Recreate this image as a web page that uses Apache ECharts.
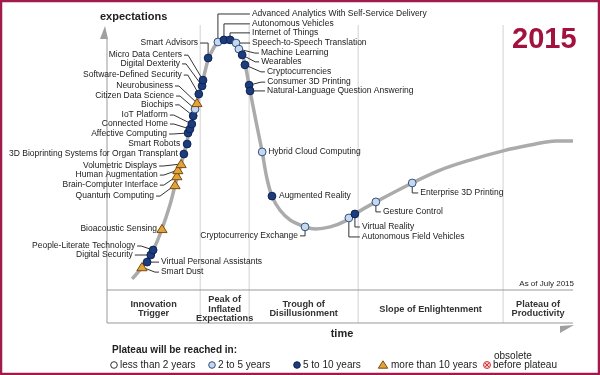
<!DOCTYPE html>
<html>
<head>
<meta charset="utf-8">
<script src="https://cdn.jsdelivr.net/npm/echarts@6/dist/echarts.min.js"></script>
<style>
html, body { margin: 0; padding: 0; background: #fff; }
#chart { width: 600px; height: 375px; }
</style>
</head>
<body>
<div id="chart"></div>
<script>
// technologies on the curve, x = time, y = expectations (0-100)
var techNames = [
    'Smart Dust', 'Virtual Personal Assistants', 'Digital Security', 'People-Literate Technology',
    'Bioacoustic Sensing', 'Quantum Computing', 'Brain-Computer Interface', 'Human Augmentation',
    'Volumetric Displays', '3D Bioprinting Systems for Organ Transplant', 'Smart Robots',
    'Affective Computing', 'Connected Home', 'IoT Platform', 'Biochips', 'Citizen Data Science',
    'Neurobusiness', 'Software-Defined Security', 'Digital Dexterity', 'Micro Data Centers',
    'Smart Advisors', 'Advanced Analytics With Self-Service Delivery', 'Autonomous Vehicles',
    'Internet of Things', 'Speech-to-Speech Translation', 'Machine Learning', 'Wearables',
    'Cryptocurrencies', 'Consumer 3D Printing', 'Natural-Language Question Answering',
    'Hybrid Cloud Computing', 'Augmented Reality', 'Cryptocurrency Exchange',
    'Autonomous Field Vehicles', 'Virtual Reality', 'Gesture Control', 'Enterprise 3D Printing'
];
var techX = [7.5, 8.6, 9.4, 9.9, 11.8, 14.6, 15.0, 15.2, 15.9, 16.5, 17.2, 17.4, 17.8, 18.2, 18.5,
    18.9, 19.3, 19.7, 20.4, 20.6, 21.7, 23.8, 25.1, 26.4, 27.7, 28.3, 29.0, 29.6, 30.5, 30.7,
    33.3, 35.4, 42.5, 51.9, 53.2, 57.7, 65.5];
var techY = [8.7, 10.6, 13.3, 15.2, 23.2, 39.9, 43.3, 45.6, 47.9, 51.7, 55.5, 59.7, 61.2, 63.1, 66.2,
    68.8, 71.1, 74.5, 77.6, 79.8, 88.2, 94.3, 95.1, 95.1, 93.9, 91.6, 89.4, 85.6, 77.9, 75.7,
    52.5, 35.7, 24.0, 27.4, 28.9, 33.5, 40.7];
// years to plateau: 0 = <2, 1 = 2-5, 2 = 5-10, 3 = >10
var techTerm = [3, 2, 2, 2, 3, 3, 3, 3, 3, 2, 2, 2, 2, 2, 2, 1, 3, 2, 2, 2,
    2, 1, 2, 2, 1, 1, 2, 2, 2, 2, 1, 2, 1, 1, 2, 1, 1];

// hype curve
var curveX = [5.4, 7.5, 9.9, 11.8, 13.5, 14.8, 16.5, 17.8, 19.3, 20.6, 21.7, 23.0, 24.2, 25.8, 27.0,
    28.1, 29.0, 29.8, 30.7, 32.0, 33.3, 34.3, 35.4, 37.1, 39.3, 42.5, 44.8, 47.9, 51.1, 53.2,
    57.7, 65.5, 71.5, 77.9, 85.0, 90.8, 96.4, 100];
var curveY = [4.2, 8.7, 15.2, 23.2, 32.3, 41.1, 51.7, 61.2, 71.1, 79.8, 87.5, 92.4, 94.7, 95.6, 95.4,
    93.5, 89.7, 84.4, 75.7, 63.9, 52.5, 42.6, 35.7, 30.4, 26.6, 24.0, 23.2, 24.0, 26.2, 28.9,
    33.5, 40.7, 45.6, 49.4, 52.9, 55.1, 56.7, 56.7];

var phaseNames = ['Innovation\nTrigger', 'Peak of\nInflated\nExpectations', 'Trough of\nDisillusionment',
    'Slope of Enlightenment', 'Plateau of\nProductivity'];
var phaseBounds = [0, 20, 30.5, 53.9, 85, 100];

var legendLabels = ['less than 2 years', '2 to 5 years', '5 to 10 years', 'more than 10 years', 'before plateau'];

// label placement: [dx, dy, align, leader]
var labelPos = [
    [19, 5, 'left', 'd'], [14, 0, 'left', 'd'], [-18, 0, 'right', 'd'], [-18, -4, 'right', 'd'],
    [-5, 0, 'right', 'none'], [-21, 11, 'right', 'd'], [-19, 9, 'right', 'd'], [-20, 5, 'right', 'd'],
    [-24, 2, 'right', 'd'], [-6, 0, 'right', 'none'], [-7, 0, 'right', 'none'],
    [-21, 1, 'right', 'd'], [-22, -5, 'right', 'd'], [-24, -9, 'right', 'd'], [-20, -11, 'right', 'd'],
    [-21, -13, 'right', 'd'], [-24, -17, 'right', 'd'], [-17, -19, 'right', 'd'], [-22, -22, 'right', 'd'],
    [-21, -25, 'right', 'd'],
    [-10, -15, 'right', 'v'], [34, -28, 'left', 'v'], [28, -16, 'left', 'v'], [22, -7, 'left', 'v'],
    [16, 0, 'left', 'd'], [22, 4, 'left', 'd'], [19, 7, 'left', 'd'], [22, 7, 'left', 'd'],
    [18, -3, 'left', 'd'], [17, 0, 'left', 'd'],
    [6, 0, 'left', 'none'], [7, 0, 'left', 'none'], [-7, 9, 'right', 'v'],
    [13, 19, 'left', 'v'], [7, 13, 'left', 'v'], [7, 10, 'left', 'v'], [8, 10, 'left', 'v']
];

var FONT = '"Liberation Sans", Arial, sans-serif';
var termFill = ['#ffffff', '#c6d8ea', '#1c3c7c', '#e2a23c'];
var termStroke = ['#333333', '#2e4f88', '#0c2254', '#7a4c0c'];

function markerShape(term, x, y, big) {
    var r = big ? 3.9 : 3.3;
    if (term === 3) {
        var h = big ? 4.6 : 4.2;
        return {
            type: 'polygon',
            shape: { points: [[x, y - h], [x + h + 0.5, y + h - 1], [x - h - 0.5, y + h - 1]] },
            style: { fill: termFill[3], stroke: termStroke[3], lineWidth: 1 }
        };
    }
    return {
        type: 'circle',
        shape: { cx: x, cy: y, r: r },
        style: { fill: termFill[term], stroke: termStroke[term], lineWidth: 1 }
    };
}

function renderItem(params, api) {
    var i = params.dataIndex;
    var p = api.coord([api.value(0), api.value(1)]);
    var term = api.value(2);
    var lp = labelPos[i];
    var lx = p[0] + lp[0], ly = p[1] + lp[1];
    var left = lp[2] === 'left';
    var kids = [];
    var lineStyle = { stroke: '#333', lineWidth: 1, fill: null };
    if (lp[3] === 'v') {
        kids.push({ type: 'polyline',
            shape: { points: [[p[0], p[1]], [p[0], ly], [left ? lx - 2 : lx + 2, ly]] },
            style: lineStyle });
    } else if (lp[3] === 'd') {
        var sx = left ? lx - 2 : lx + 2;
        var kx = left ? sx - 4 : sx + 4;
        kids.push({ type: 'polyline',
            shape: { points: [[sx, ly], [kx, ly], [p[0], p[1]]] },
            style: lineStyle });
    }
    kids.push(markerShape(term, p[0], p[1], true));
    kids.push({ type: 'text', style: {
        text: techNames[i], x: lx, y: ly, align: left ? 'left' : 'right', verticalAlign: 'middle',
        font: '8.5px ' + FONT, fill: '#1a1a1a'
    } });
    return { type: 'group', children: kids };
}

var chart = echarts.init(document.getElementById('chart'));

chart.setOption({
    animation: false,
    grid: { left: 107, top: 27, width: 466, height: 263 },
    xAxis: { type: 'value', min: 0, max: 100, show: false },
    yAxis: { type: 'value', min: 0, max: 100, show: false },
    series: [
        {
            type: 'line',
            data: curveX.map(function (x, i) { return [x, curveY[i]]; }),
            showSymbol: false,
            smooth: 0.35,
            lineStyle: { color: '#ababab', width: 3.5 },
            z: 1
        },
        {
            type: 'custom',
            renderItem: renderItem,
            data: techNames.map(function (n, i) { return [techX[i], techY[i], techTerm[i]]; }),
            z: 3
        }
    ]
});

// frame, axes, phases and legend
var g = [];
var axisColor = '#999';
g.push({ type: 'rect', shape: { x: 1, y: 1, width: 598, height: 373 },
    style: { fill: null, stroke: '#a01a4c', lineWidth: 2.5 }, z: 0 });

var bx = phaseBounds.map(function (b) { return chart.convertToPixel({ gridIndex: 0 }, [b, 0])[0]; });
for (var k = 1; k < bx.length - 1; k++) {
    g.push({ type: 'line', shape: { x1: bx[k], y1: 25, x2: bx[k], y2: 323 },
        style: { stroke: '#d2d2d2', lineWidth: 1 }, z: 0 });
}
for (var k = 0; k < phaseNames.length; k++) {
    g.push({ type: 'text', style: {
        text: phaseNames[k], x: (bx[k] + bx[k + 1]) / 2, y: 309, align: 'center', verticalAlign: 'middle',
        font: 'bold 9.2px ' + FONT, fill: '#333', lineHeight: 9.5
    }, z: 5 });
}
var x0 = bx[0], x1 = bx[bx.length - 1];
g.push({ type: 'line', shape: { x1: x0, y1: 38, x2: x0, y2: 323 }, style: { stroke: axisColor, lineWidth: 1 }, z: 0 });
g.push({ type: 'polygon', shape: { points: [[105, 26], [100, 39], [108, 39]] }, style: { fill: '#a0a0a0' }, z: 0 });
g.push({ type: 'line', shape: { x1: x0, y1: 290, x2: x1, y2: 290 }, style: { stroke: axisColor, lineWidth: 1 }, z: 0 });
g.push({ type: 'line', shape: { x1: x0, y1: 323, x2: x1, y2: 323 }, style: { stroke: axisColor, lineWidth: 1 }, z: 0 });
g.push({ type: 'polygon', shape: { points: [[560, 326], [574, 325], [560, 333]] }, style: { fill: '#a0a0a0' }, z: 0 });

g.push({ type: 'text', style: { text: 'expectations', x: 100, y: 17, verticalAlign: 'middle',
    font: 'bold 11px ' + FONT, fill: '#222' } });
g.push({ type: 'text', style: { text: 'time', x: 342, y: 334, align: 'center', verticalAlign: 'middle',
    font: 'bold 11px ' + FONT, fill: '#222' } });
g.push({ type: 'text', style: { text: '2015', x: 512, y: 40, verticalAlign: 'middle',
    font: 'bold 29px ' + FONT, fill: '#a3123f' } });
g.push({ type: 'text', style: { text: 'As of July 2015', x: 574, y: 284, align: 'right', verticalAlign: 'middle',
    font: '8px ' + FONT, fill: '#222' } });

g.push({ type: 'text', style: { text: 'Plateau will be reached in:', x: 112, y: 350, verticalAlign: 'middle',
    font: 'bold 10px ' + FONT, fill: '#222' } });
var legX = [114, 212, 297, 383, 487];
for (var k = 0; k < legendLabels.length; k++) {
    var lyy = 365;
    if (k < 4) {
        var m = markerShape(k, legX[k], lyy, false);
        m.z = 5;
        g.push(m);
    } else {
        g.push({ type: 'circle', shape: { cx: legX[k], cy: lyy, r: 3.5 },
            style: { fill: '#f6c9c9', stroke: '#d83a3a', lineWidth: 1 }, z: 5 });
        g.push({ type: 'polyline', shape: { points: [[legX[k] - 2, lyy - 2], [legX[k] + 2, lyy + 2]] },
            style: { stroke: '#d83a3a', lineWidth: 1 }, z: 6 });
        g.push({ type: 'polyline', shape: { points: [[legX[k] + 2, lyy - 2], [legX[k] - 2, lyy + 2]] },
            style: { stroke: '#d83a3a', lineWidth: 1 }, z: 6 });
        g.push({ type: 'text', style: { text: 'obsolete', x: legX[k] + 7, y: 356, verticalAlign: 'middle',
            font: '10px ' + FONT, fill: '#222' } });
    }
    g.push({ type: 'text', style: { text: legendLabels[k], x: legX[k] + (k === 3 ? 8 : 6), y: lyy,
        verticalAlign: 'middle', font: '10px ' + FONT, fill: '#222' } });
}

chart.setOption({ graphic: g });
</script>
</body>
</html>
